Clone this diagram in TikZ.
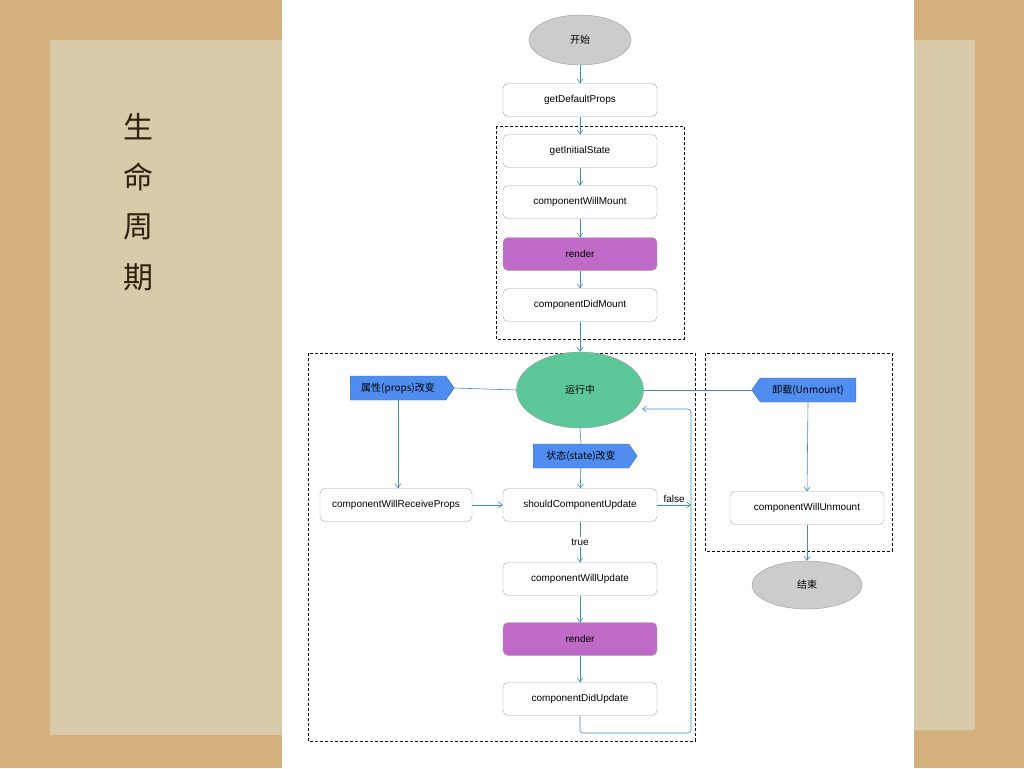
\documentclass[tikz,border=0pt]{standalone}
\usepackage{fontspec}
\setmainfont{Liberation Sans}
\newfontfamily\cjk{Noto Sans CJK SC}
\usetikzlibrary{shapes.geometric,shapes.symbols,arrows.meta}
\definecolor{ln}{HTML}{3A8FC0}
\definecolor{pur}{HTML}{C06AC8}
\definecolor{grn}{HTML}{5CC89A}
\definecolor{blu}{HTML}{4F8EF0}
\definecolor{tan}{HTML}{D4B07C}
\definecolor{paper}{HTML}{D9CBAA}
\begin{document}
\begin{tikzpicture}[x=1pt,y=-1pt,
  box/.style={draw=gray!70,rounded corners=5pt,minimum width=154pt,minimum height=33pt,fill=white,font=\fontsize{10}{12}\selectfont},
  pbox/.style={box,fill=pur},
  ell/.style={ellipse,draw=gray!80,fill=gray!40,minimum width=102pt,minimum height=50pt,font=\cjk\fontsize{10}{12}\selectfont},
  sig/.style={signal,fill=blu,draw=blu!80!black,minimum width=104pt,minimum height=24pt,inner sep=1pt,font=\cjk\fontsize{10}{12}\selectfont,signal pointer angle=110},
  ar/.style={draw=ln,-{Straight Barb[length=4pt,width=6pt]},semithick},
  li/.style={draw=ln,semithick},
  grp/.style={draw=black,densely dashed,thin}]
\fill[tan] (0,0) rectangle (1024,768);
\fill[paper] (50,40) rectangle (282,735);
\fill[paper] (914,40) rectangle (975,730);
\fill[white] (282,0) rectangle (914,768);
\foreach \c [count=\i] in {生,命,周,期}
  \node[font=\cjk\fontsize{30}{32}\selectfont,text=black!75!brown] (t\i) at (138,77+50*\i) {\c};
\draw[grp] (496,126) rectangle (684,339);
\draw[grp] (308,353) rectangle (695,741);
\draw[grp] (705,353) rectangle (892,551);
\node[ell] (start) at (580,40) {开始};
\node[box] (gdp) at (580,100) {getDefaultProps};
\node[box] (gis) at (580,151) {getInitialState};
\node[box] (cwm) at (580,202) {componentWillMount};
\node[pbox] (r1) at (580,254) {render};
\node[box] (cdm) at (580,305) {componentDidMount};
\node[ell,fill=grn,draw=gray!80,minimum width=127pt,minimum height=76pt] (run) at (580,390) {运行中};
\node[sig,signal to=east] (props) at (398,388) {属性(props)改变};
\node[sig,signal to=east] (state) at (581,456) {状态(state)改变};
\node[sig,signal to=west] (unm) at (808,390) {卸载(Unmount)};
\node[box,minimum width=152pt] (cwrp) at (396,505) {componentWillReceiveProps};
\node[box] (scu) at (580,505) {shouldComponentUpdate};
\node[box] (cwu) at (580,579) {componentWillUpdate};
\node[pbox] (r2) at (580,639) {render};
\node[box] (cdu) at (580,699) {componentDidUpdate};
\node[box] (cwun) at (807,508) {componentWillUnmount};
\node[ell,minimum width=110pt,minimum height=48pt] (end) at (807,585) {结束};
\coordinate (f) at (691,505);
\coordinate (back) at (642,409);
\draw[ar] (start) -- (gdp);
\draw[ar] (gdp) -- (gis);
\draw[ar] (gis) -- (cwm);
\draw[ar] (cwm) -- (r1);
\draw[ar] (r1) -- (cdm);
\draw[ar] (cdm) -- (run);
\draw[li] (run.west) -- (props.east);
\draw[ar] (props.south) -- (cwrp.north -| props.south);
\draw[li] (run.east) -- (unm.west);
\draw[ar] (unm.south) -- (cwun.north);
\draw[ar] (cwun) -- (end);
\draw[li] (run.south) -- (state.north);
\draw[ar] (state) -- (scu);
\draw[ar] (cwrp) -- (scu);
\draw[ar] (scu.east) -- node[above,font=\fontsize{10}{12}\selectfont,inner sep=2pt]{false} (f);
\draw[ar] (scu) -- node[fill=white,font=\fontsize{10}{12}\selectfont,inner sep=2pt]{true} (cwu);
\draw[ar] (cwu) -- (r2);
\draw[ar] (r2) -- (cdu);
\draw[ar,rounded corners=3pt] (cdu.south) -- (580,733) -- (691,733) -- (691,409) -- (back);
\end{tikzpicture}
\end{document}
